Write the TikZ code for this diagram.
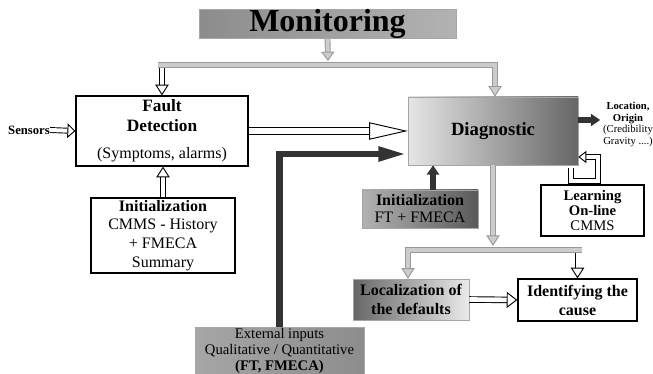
\documentclass[tikz,border=0pt]{standalone}
\usepackage{fontspec}
\setmainfont{Liberation Serif}
\usetikzlibrary{arrows.meta,calc}

\tikzset{
  box/.style={draw, line width=0.9pt, align=center, inner sep=0pt},
  shadebox/.style={draw=black!35, line width=0.4pt, align=center, inner sep=0pt},
  hollow/.style={draw=black, line width=0.7pt, double=white, double distance=#1},
  grayline/.style={draw=black!40, line width=0.7pt, double=black!20, double distance=#1},
  darkline/.style={draw=black!80, line width=#1},
}

\begin{document}
\begin{tikzpicture}[x=0.75pt, y=-0.75pt]
\useasboundingbox (0,0) rectangle (653,374);

\node[shadebox, left color=black!45, middle color=black!12, right color=black!30, minimum width=192.75pt, minimum height=19.5pt, font=\fontsize{24}{26}\selectfont\bfseries] (mon) at (327.5,24) {Monitoring};
\node[box, minimum width=129pt, minimum height=52.5pt, font=\fontsize{13}{15}\selectfont] (fd) at (162,131) {\bfseries Fault\\\bfseries Detection\\[5pt]\fontsize{12}{14}\selectfont(Symptoms, alarms)};
\node[shadebox, left color=black!10, right color=black!60, minimum width=127.5pt, minimum height=51pt, font=\fontsize{14}{16}\selectfont\bfseries] (diag) at (493,131) {Diagnostic};
\node[box, minimum width=108pt, minimum height=56.25pt, font=\fontsize{12}{14}\selectfont] (init1) at (163,235.5) {\bfseries Initialization\\CMMS - History\\+ FMECA\\Summary};
\node[shadebox, left color=black!30, middle color=black!10, right color=black!65, minimum width=87pt, minimum height=28.5pt, font=\fontsize{12}{12.75}\selectfont] (init2) at (420,209) {\bfseries Initialization\\FT + FMECA};
\node[box, minimum width=77.25pt, minimum height=38.25pt, font=\fontsize{11}{11.6}\selectfont] (learn) at (592.5,210.5) {\bfseries Learning\\\bfseries On-line\\CMMS};
\node[shadebox, left color=black!60, right color=black!8, minimum width=87pt, minimum height=30.75pt, font=\fontsize{12}{14.25}\selectfont\bfseries] (loc) at (411,299.5) {Localization of\\the defaults};
\node[box, minimum width=89.25pt, minimum height=31.5pt, font=\fontsize{12}{14.25}\selectfont\bfseries] (ident) at (577.5,300) {Identifying the\\cause};
\node[shadebox, left color=black!35, middle color=black!8, right color=black!45, minimum width=126.75pt, minimum height=35.25pt, font=\fontsize{11}{12}\selectfont] (ext) at (279.5,350.5) {External inputs\\Qualitative / Quantitative\\\bfseries (FT, FMECA)};
\node[inner sep=0pt, font=\fontsize{9.5}{11}\selectfont\bfseries] (sens) at (29,130) {Sensors};
\node[inner sep=0pt, align=center, font=\fontsize{8}{8.75}\selectfont] (locout) at (628,124.5) {\bfseries Location,\\\bfseries Origin\\(Credibility\\Gravity ....)};

\coordinate (bartop) at (328,61);
\coordinate (barL) at (158,65);
\coordinate (barR) at (495,65);
\coordinate (lbartop) at (493,246);
\coordinate (lbarL) at (408,250);
\coordinate (lbarR) at (582,250);
\coordinate (i2) at (433,190);
\coordinate (d1) at ($(diag.east)+(0,-11)$);
\coordinate (lp) at (571,168);

\draw[grayline=3pt, -{Triangle[length=7pt, width=10pt, fill=black!20]}] (mon.south) -- (bartop);
\draw[hollow=3pt, -{Triangle[length=8pt, width=10pt, fill=white]}] (fd.north |- barL) -- (fd.north);
\draw[grayline=3.5pt, -{Triangle[length=8pt, width=10pt, fill=black!20]}] (barL) -- (barR) -- (barR |- diag.north);

\draw[hollow=3pt, -{Triangle[length=6pt, width=11pt, fill=white]}] (sens.east) -- (fd.west);
\draw[hollow=4.5pt, -{Triangle[length=29pt, width=13pt, fill=white]}] (fd.east) -- (diag.west);
\draw[hollow=3pt, -{Triangle[length=8pt, width=10pt, fill=white]}] (init1.north) -- (init1.north |- fd.south);

\draw[darkline=5pt, -{Triangle[length=22pt, width=10pt]}] (ext.north) |- ($(diag.west)+(0,23)$);
\draw[darkline=4pt, -{Triangle[length=7pt, width=9pt]}] (i2) -- (i2 |- diag.south);
\draw[darkline=4pt, -{Triangle[length=7pt, width=9pt]}, shorten >=2pt] (d1) -- (d1 -| locout.west);
\draw[hollow=3pt, -{Triangle[length=6pt, width=9pt, fill=white]}] (lp) -- (571,181) -- (598,181) -- (598,157) -- ($(diag.east)+(0,26)$);

\draw[grayline=3pt, -{Triangle[length=8pt, width=10pt, fill=black!20]}] (diag.south) -- (lbartop);
\draw[hollow=3pt, -{Triangle[length=8pt, width=10pt, fill=white]}] (ident.north |- lbarR) -- (ident.north);
\draw[grayline=3.5pt, -{Triangle[length=8pt, width=10pt, fill=black!20]}] (lbarR) -- (lbarL) -- (lbarL |- loc.north);
\draw[hollow=3.5pt, -{Triangle[length=8pt, width=12pt, fill=white]}] (loc.east) -- (ident.west);
\end{tikzpicture}
\end{document}
